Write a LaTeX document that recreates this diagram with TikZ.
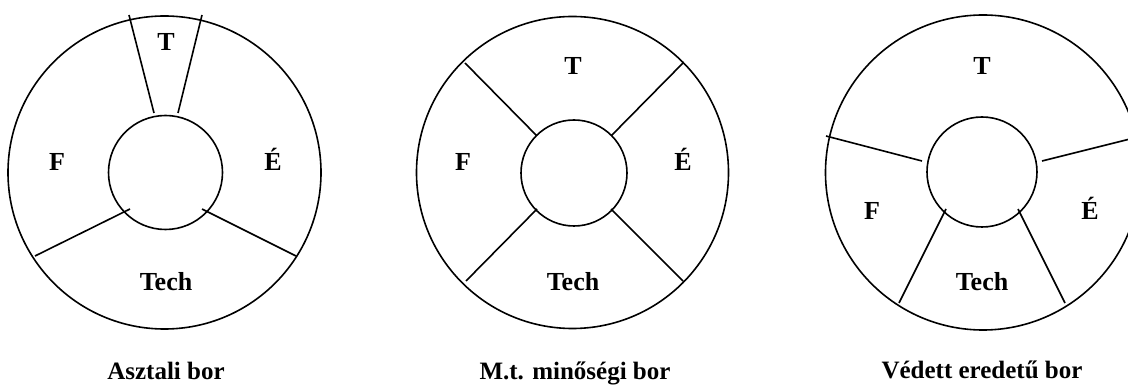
\documentclass[tikz,border=0pt]{standalone}
\usepackage{fontspec}
\setmainfont{Liberation Serif}
\begin{document}
\begin{tikzpicture}[x=1pt,y=-1pt,
  ring/.style={draw=black,line width=1.6pt,circle,inner sep=0pt,minimum size=#1},
  divider/.style={draw=black,line width=1.6pt},
  lbl/.style={font=\fontsize{26}{30}\selectfont\bfseries,anchor=base,inner sep=0pt},
  captext/.style={font=\fontsize{25}{30}\selectfont\bfseries,anchor=base,inner sep=0pt}]
\useasboundingbox (0,0) rectangle (1128,387);
\clip (0,0) rectangle (1128,387);
% ---------- Circle 1 ----------
\node[ring=313pt] (o1) at (164.5,172.5) {};
\node[ring=114pt] (i1) at (165.5,172.5) {};
\coordinate (a1) at (129,15);  \coordinate (a2) at (154,113);
\coordinate (b1) at (202,15);  \coordinate (b2) at (178,113);
\coordinate (c1) at (35,256);  \coordinate (c2) at (130,209);
\coordinate (d1) at (296,256); \coordinate (d2) at (202,209);
\draw[divider] (a1) -- (a2);
\draw[divider] (b1) -- (b2);
\draw[divider] (c1) -- (c2);
\draw[divider] (d1) -- (d2);
\node[lbl] (t1) at (166,51) {T};
\node[lbl] (f1) at (57,171) {F};
\node[lbl] (e1) at (273,171) {É};
\node[lbl] (h1) at (166,291) {Tech};
\node[captext] (k1) at (166,380) {Asztali bor};
% ---------- Circle 2 ----------
\node[ring=312pt] (o2) at (572.5,172.5) {};
\node[ring=106pt] (i2) at (574,173) {};
\coordinate (p1) at (465,63);  \coordinate (p2) at (537,136);
\coordinate (q1) at (683,63);  \coordinate (q2) at (611,136);
\coordinate (r1) at (466,281); \coordinate (r2) at (537,209);
\coordinate (s1) at (683,281); \coordinate (s2) at (611,209);
\draw[divider] (p1) -- (p2);
\draw[divider] (q1) -- (q2);
\draw[divider] (r1) -- (r2);
\draw[divider] (s1) -- (s2);
\node[lbl] (t2) at (573,75) {T};
\node[lbl] (f2) at (463,171) {F};
\node[lbl] (e2) at (683,171) {É};
\node[lbl] (h2) at (573,291) {Tech};
\node[captext] (k2) at (575,380) {M.t. minőségi bor};
% ---------- Circle 3 ----------
\node[ring=315pt] (o3) at (983,172.5) {};
\node[ring=110pt] (i3) at (982,172) {};
\coordinate (u1) at (826,136);  \coordinate (u2) at (922,161);
\coordinate (v1) at (1130,139); \coordinate (v2) at (1042,161);
\coordinate (w1) at (899,303);  \coordinate (w2) at (946,209);
\coordinate (z1) at (1065,303); \coordinate (z2) at (1018,209);
\draw[divider] (u1) -- (u2);
\draw[divider] (v1) -- (v2);
\draw[divider] (w1) -- (w2);
\draw[divider] (z1) -- (z2);
\node[lbl] (t3) at (982,75) {T};
\node[lbl] (f3) at (872,220) {F};
\node[lbl] (e3) at (1090,220) {É};
\node[lbl] (h3) at (982,291) {Tech};
\node[captext] (k3) at (982,379) {Védett eredetű bor};
\end{tikzpicture}
\end{document}
